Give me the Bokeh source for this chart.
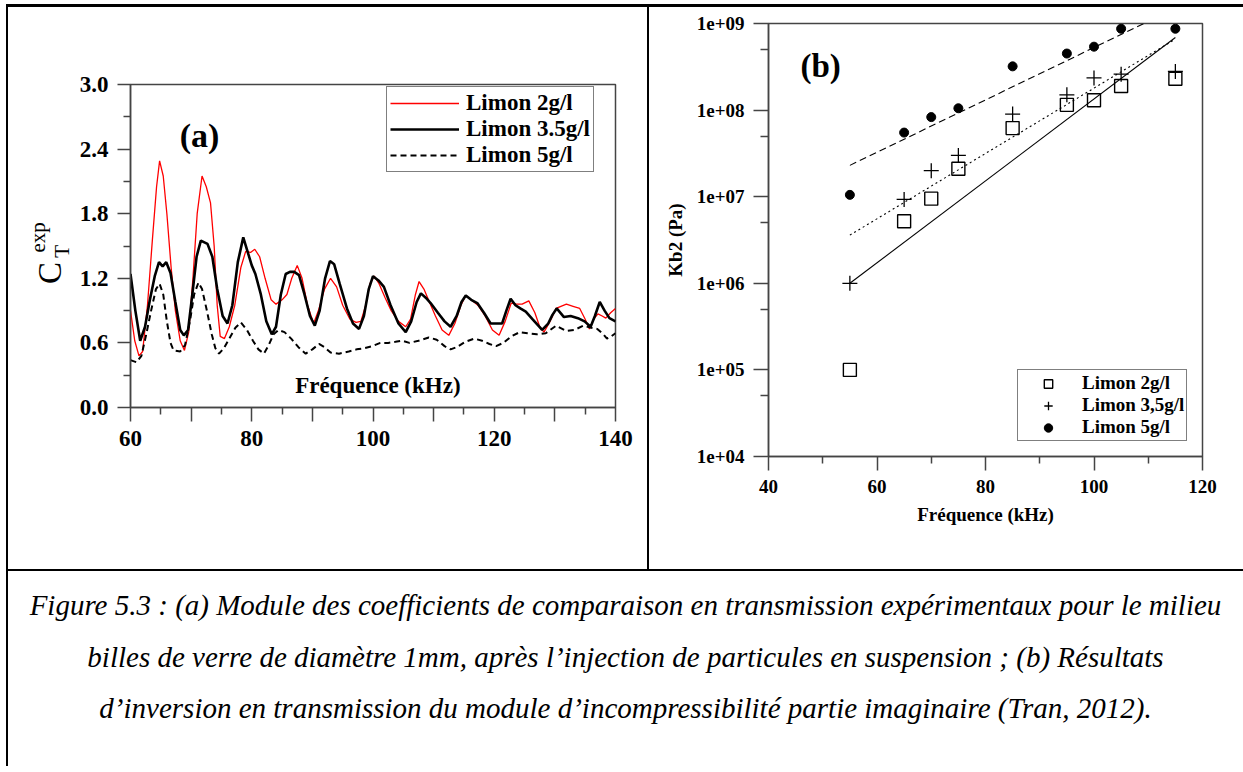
import math
from bokeh.plotting import figure
from bokeh.models import (Range1d, FixedTicker, PrintfTickFormatter, Label, Legend,
                          LegendItem, Div)
from bokeh.layouts import row, column
from bokeh.embed import file_html
from bokeh.resources import INLINE

# ---------------- data (a) ----------------
freq_2 = [60.0, 60.7, 61.4, 62.0, 62.8, 63.6, 64.3, 64.8, 65.4, 66.0, 66.7, 67.4, 68.2, 68.9, 69.6,
          70.3, 71.0, 71.8, 72.5, 73.2, 73.8, 74.3, 74.8, 75.5, 76.3, 77.2, 78.2, 79.0, 79.8, 80.5,
          81.3, 82.2, 83.2, 84.0, 85.0, 85.8, 86.6, 87.5, 88.3, 89.2, 90.2, 91.0, 92.0, 93.0, 94.0,
          95.0, 96.2, 97.2, 98.0, 98.8, 99.5, 100.2, 101.0, 102.0, 103.0, 104.2, 105.4, 106.2, 107.0,
          107.6, 108.4, 109.3, 110.3, 111.4, 112.5, 113.5, 114.5, 115.3, 116.2, 117.3, 118.5, 119.7,
          120.8, 121.8, 122.8, 123.7, 124.6, 125.7, 126.7, 127.5, 128.2, 129.2, 130.2, 131.0, 131.9,
          133.0, 134.1, 135.0, 135.7, 136.4, 137.1, 137.8, 138.4, 139.2, 140.0]
ct_2 = [0.90, 0.62, 0.48, 0.52, 0.95, 1.55, 2.05, 2.29, 2.15, 1.80, 1.30, 0.90, 0.62, 0.53, 0.70,
        1.20, 1.80, 2.15, 2.05, 1.90, 1.50, 0.95, 0.66, 0.64, 0.75, 0.95, 1.30, 1.45, 1.44, 1.47,
        1.40, 1.20, 1.00, 0.96, 1.00, 1.05, 1.20, 1.32, 1.20, 0.95, 0.78, 0.90, 1.10, 1.20, 1.12,
        0.95, 0.82, 0.79, 0.80, 0.95, 1.15, 1.22, 1.15, 1.02, 0.90, 0.80, 0.75, 0.82, 1.05,
        1.17, 1.10, 0.98, 0.85, 0.72, 0.67, 0.78, 0.95, 1.04, 1.00, 0.95, 0.85, 0.72,
        0.67, 0.80, 0.97, 0.96, 0.96, 0.99, 0.88, 0.75, 0.70, 0.80, 0.92, 0.94, 0.96,
        0.94, 0.92, 0.82, 0.73, 0.82, 0.87, 0.85, 0.83, 0.88, 0.92]

freq_35 = [60.0, 60.8, 61.6, 62.4, 63.2, 64.0, 64.7, 65.3, 65.9, 66.6, 67.4, 68.2, 68.8, 69.5, 70.2,
           70.9, 71.6, 72.7, 73.5, 74.3, 75.2, 76.0, 76.8, 77.7, 78.6, 79.3, 80.0, 80.6, 81.5, 82.4,
           83.3, 84.0, 84.8, 85.6, 86.3, 87.0, 87.8, 88.7, 89.6, 90.4, 91.2, 92.1, 92.9, 93.6, 94.5,
           95.7, 96.7, 97.7, 98.5, 99.3, 100.0, 100.9, 101.8, 102.9, 104.2, 105.4, 106.3, 107.2,
           107.9, 108.7, 109.5, 110.7, 111.8, 112.8, 113.8, 114.6, 115.3, 116.2, 117.2, 118.3,
           119.4, 120.4, 121.3, 122.0, 122.7, 123.5, 124.3, 125.2, 126.3, 127.9, 128.9, 129.6,
           130.3, 131.5, 132.6, 133.8, 134.9, 135.9, 136.6, 137.4, 138.2, 139.0, 140.0]
ct_35 = [1.24, 0.90, 0.62, 0.75, 1.00, 1.22, 1.35, 1.31, 1.35, 1.25, 0.98, 0.72, 0.67, 0.72, 1.05,
         1.40, 1.55, 1.52, 1.40, 1.10, 0.85, 0.78, 0.95, 1.35, 1.58, 1.45, 1.32, 1.24, 1.05, 0.80,
         0.68, 0.75, 1.05, 1.24, 1.26, 1.26, 1.23, 1.05, 0.85, 0.76, 0.90, 1.20, 1.36, 1.33, 1.15,
         0.92, 0.78, 0.73, 0.85, 1.10, 1.22, 1.18, 1.12, 0.95, 0.78, 0.70, 0.80, 0.98,
         1.06, 1.02, 0.97, 0.88, 0.80, 0.75, 0.85, 0.98, 1.04, 1.00, 0.97, 0.88,
         0.78, 0.78, 0.78, 0.90, 1.01, 0.95, 0.92, 0.89, 0.82, 0.72, 0.78, 0.86,
         0.92, 0.84, 0.85, 0.83, 0.80, 0.75, 0.85, 0.98, 0.90, 0.83, 0.80]

freq_5 = [60.0, 61.0, 61.8, 62.6, 63.4, 64.2, 64.8, 65.4, 66.0, 66.6, 67.1, 68.2, 69.0, 69.8, 70.5,
          71.2, 71.8, 72.6, 73.4, 74.0, 74.6, 75.4, 76.4, 77.3, 78.2, 79.2, 80.2, 81.1, 82.0, 82.8,
          83.6, 84.4, 85.4, 86.5, 87.7, 88.9, 90.0, 91.1, 92.0, 93.0, 94.4, 96.0, 97.3, 98.5, 99.9,
          101.2, 102.5, 103.7, 104.8, 106.0, 107.5, 109.2, 110.5, 111.8, 112.8, 113.8, 115.2, 116.7,
          118.0, 119.2, 120.3, 121.5, 122.8, 124.2, 125.5, 127.0, 128.5, 130.2, 131.9, 133.2, 134.7,
          136.0, 137.0, 138.0, 138.6, 139.3, 140.0]
ct_5 = [0.44, 0.42, 0.48, 0.68, 0.90, 1.10, 1.15, 1.05, 0.80, 0.60, 0.53, 0.52, 0.58, 0.80, 1.05,
        1.16, 1.10, 0.90, 0.68, 0.55, 0.50, 0.55, 0.65, 0.74, 0.79, 0.72, 0.62, 0.54, 0.50, 0.58,
        0.68, 0.72, 0.70, 0.64, 0.56, 0.50, 0.54, 0.59, 0.56, 0.51, 0.50, 0.52, 0.54, 0.55, 0.57,
        0.60, 0.60, 0.61, 0.62, 0.60, 0.62, 0.65, 0.63, 0.57, 0.54, 0.56, 0.61, 0.64,
        0.62, 0.59, 0.57, 0.60, 0.66, 0.70, 0.69, 0.68, 0.69, 0.76, 0.71, 0.72, 0.76,
        0.74, 0.73, 0.68, 0.64, 0.66, 0.69]

a_x_ticks = [60, 70, 80, 90, 100, 110, 120, 130, 140]
a_x_minor = [65, 75, 85, 95, 105, 115, 125, 135]
a_y_ticks = [0.0, 0.6, 1.2, 1.8, 2.4, 3.0]
a_y_minor = [0.3, 0.9, 1.5, 2.1, 2.7]
a_labels = ["Limon 2g/l", "Limon 3.5g/l", "Limon 5g/l"]

# ---------------- data (b) ----------------
freq_b = [55, 65, 70, 75, 85, 95, 100, 105, 115]
kb2_2 = [1.0e5, 5.2e6, 9.5e6, 2.1e7, 6.2e7, 1.15e8, 1.3e8, 1.9e8, 2.3e8]
kb2_35 = [1.0e6, 9.3e6, 2.0e7, 3.0e7, 9.0e7, 1.5e8, 2.35e8, 2.6e8, 2.8e8]
kb2_5 = [1.05e7, 5.5e7, 8.3e7, 1.05e8, 3.2e8, 4.5e8, 5.4e8, 8.7e8, 8.7e8]
fit_f = [55, 115]
fit_2 = [1.0e6, 6.9e8]
fit_35 = [3.6e6, 6.6e8]
fit_5 = [2.3e7, 1.5e9]
b_x_ticks = [40, 60, 80, 100, 120]
b_x_minor = [50, 70, 90, 110]
b_y_ticks = [1e4, 1e5, 1e6, 1e7, 1e8, 1e9]
b_y_minor = [5e4, 5e5, 5e6, 5e7, 5e8]
b_y_labels = ["1e+04", "1e+05", "1e+06", "1e+07", "1e+08", "1e+09"]
b_labels = ["Limon 2g/l", "Limon 3,5g/l", "Limon 5g/l"]

SERIF = "Liberation Serif"
AX = "#444444"


def style_axes(p, fs):
    for ax in (p.xaxis[0], p.yaxis[0]):
        ax.axis_line_color = AX
        ax.axis_line_width = 1.5
        ax.major_tick_line_color = AX
        ax.minor_tick_line_color = AX
        ax.major_tick_line_width = 1.5
        ax.minor_tick_line_width = 1.5
        ax.major_tick_in = 0
        ax.minor_tick_in = 0
        ax.major_label_text_font = SERIF
        ax.major_label_text_font_style = "bold"
        ax.major_label_text_font_size = fs
        ax.major_label_text_color = "black"
        ax.axis_label_text_color = "black"
    p.xgrid.visible = False
    p.ygrid.visible = False
    p.outline_line_color = AX
    p.outline_line_width = 1.5
    p.background_fill_color = "white"
    p.border_fill_color = "white"


def text_label(x, y, text, size, bold=False, angle=0.0):
    return Label(x=x, y=y, text=text, angle=angle, text_align="center", text_baseline="middle",
                 text_font=SERIF, text_font_style="bold" if bold else "normal",
                 text_font_size=size, text_color="black")


# ---------------- figure (a) ----------------
pa = figure(width=639, height=562, output_backend="svg", toolbar_location=None,
            x_range=Range1d(60, 140), y_range=Range1d(0, 3.0),
            min_border_left=122, min_border_right=32, min_border_top=77, min_border_bottom=162)
style_axes(pa, "23px")
pa.xaxis.ticker = FixedTicker(ticks=a_x_ticks, minor_ticks=a_x_minor)
pa.yaxis.ticker = FixedTicker(ticks=a_y_ticks, minor_ticks=a_y_minor)
pa.yaxis.formatter = PrintfTickFormatter(format="%.1f")
pa.xaxis.major_label_overrides = {t: ("" if (t - 60) % 20 else str(t)) for t in a_x_ticks}
pa.xaxis.major_tick_out = 14
pa.xaxis.minor_tick_out = 7
pa.yaxis.major_tick_out = 13
pa.yaxis.minor_tick_out = 7
pa.xaxis.major_label_standoff = 9
pa.yaxis.major_label_standoff = 9

r2 = pa.line(freq_2, ct_2, line_color="#ff0000", line_width=1.3)
r35 = pa.line(freq_35, ct_35, line_color="black", line_width=2.6)
r5 = pa.line(freq_5, ct_5, line_color="black", line_width=2.0, line_dash="6 4")

leg_a = Legend(items=[LegendItem(label=a_labels[0], renderers=[r2]),
                      LegendItem(label=a_labels[1], renderers=[r35]),
                      LegendItem(label=a_labels[2], renderers=[r5])],
               location=(256, 235), margin=0, padding=3, spacing=0, label_standoff=7,
               glyph_width=69, glyph_height=24, label_height=24,
               label_text_font=SERIF, label_text_font_style="bold", label_text_font_size="23px",
               label_text_color="black",
               border_line_color="black", border_line_width=1.5, background_fill_alpha=1.0)
pa.add_layout(leg_a)

pa.add_layout(text_label(71.4, 2.53, "(a)", "34px", bold=True))
pa.add_layout(text_label(100.8, 0.20, "Fréquence (kHz)", "23px", bold=True))
# y-axis title  C_T^exp : placed in a side panel (not clipped to the frame);
# the bottom panel has room to spare, so the frame is not pushed
pa.add_layout(text_label(46.8, 1.25, "C", "33px", angle=math.pi / 2), "below")
pa.add_layout(text_label(48.7, 1.45, "T", "21px", angle=math.pi / 2), "below")
pa.add_layout(text_label(44.8, 1.58, "exp", "21px", angle=math.pi / 2), "below")

# ---------------- figure (b) ----------------
pb = figure(width=594, height=562, output_backend="svg", toolbar_location=None,
            x_range=Range1d(40, 120), y_range=Range1d(1e4, 1e9), y_axis_type="log",
            min_border_left=119, min_border_right=41, min_border_top=16, min_border_bottom=113)
style_axes(pb, "19px")
pb.xaxis.ticker = FixedTicker(ticks=b_x_ticks, minor_ticks=b_x_minor)
pb.yaxis.ticker = FixedTicker(ticks=b_y_ticks, minor_ticks=b_y_minor)
pb.yaxis.major_label_overrides = {t: lab for t, lab in zip(b_y_ticks, b_y_labels)}
pb.xaxis.major_tick_out = 14
pb.xaxis.minor_tick_out = 7
pb.yaxis.major_tick_out = 15
pb.yaxis.minor_tick_out = 8
pb.xaxis.major_label_standoff = 9
pb.yaxis.major_label_standoff = 9
pb.xaxis.axis_label = "Fréquence (kHz)"
pb.yaxis.axis_label = "Kb2 (Pa)"
for ax in (pb.xaxis[0], pb.yaxis[0]):
    ax.axis_label_text_font = SERIF
    ax.axis_label_text_font_style = "bold"
    ax.axis_label_text_font_size = "19px"
    ax.axis_label_standoff = 8

pb.line(fit_f, fit_2, line_color="black", line_width=1.1)
pb.line(fit_f, fit_35, line_color="black", line_width=1.1, line_dash="2 3")
pb.line(fit_f, fit_5, line_color="black", line_width=1.1, line_dash="7 4")
s2 = pb.scatter(freq_b, kb2_2, marker="square", size=13, line_color="black", line_width=1.4,
                fill_color=None)
s35 = pb.scatter(freq_b, kb2_35, marker="cross", size=15, line_color="black", line_width=1.3)
s5 = pb.scatter(freq_b, kb2_5, marker="circle", size=9, line_color="black", fill_color="black")

leg_b = Legend(items=[LegendItem(label=b_labels[0], renderers=[s2]),
                      LegendItem(label=b_labels[1], renderers=[s35]),
                      LegendItem(label=b_labels[2], renderers=[s5])],
               location=(249, 15), margin=0, padding=2, spacing=0, label_standoff=6,
               glyph_width=56, glyph_height=21, label_height=21,
               label_text_font=SERIF, label_text_font_style="bold", label_text_font_size="19px",
               label_text_color="black",
               border_line_color="black", border_line_width=1.5, background_fill_alpha=1.0)
pb.add_layout(leg_b)
pb.add_layout(text_label(49.6, 3.27e8, "(b)", "33px", bold=True))

# ---------------- frame lines & caption ----------------
def bar(w, h, color="black"):
    return Div(text="", width=w, height=h, margin=(0, 0, 0, 0),
               styles={"background-color": color})

caption_lines = [
    "Figure 5.3 : (a) Module des coefficients de comparaison en transmission expérimentaux pour le milieu",
    "billes de verre de diamètre 1mm, après l’injection de particules en suspension ; (b) Résultats",
    "d’inversion en transmission du module d’incompressibilité partie imaginaire (Tran, 2012).",
]
caption = Div(text="<div style=\"width:1235px;font-family:'Liberation Serif';font-style:italic;"
                   "font-size:29px;line-height:51.5px;text-align:center;white-space:nowrap;"
                   "padding-top:9px;color:black\">" + "<br>".join(caption_lines) + "</div>",
              width=1235, height=195, margin=(0, 0, 0, 0))

box_a = column(pa, spacing=0)
box_b = column(pb, spacing=0)

layout = column(
    bar(1243, 4, "white"),
    row(bar(6, 3, "white"), bar(1237, 3), spacing=0),
    row(bar(6, 562, "white"), bar(2, 562), box_a, bar(2, 562), box_b, spacing=0),
    row(bar(6, 2, "white"), bar(1237, 2), spacing=0),
    row(bar(6, 195, "white"), bar(2, 195), caption, spacing=0),
    spacing=0)

open("out.html", "w").write(file_html(layout, INLINE))
